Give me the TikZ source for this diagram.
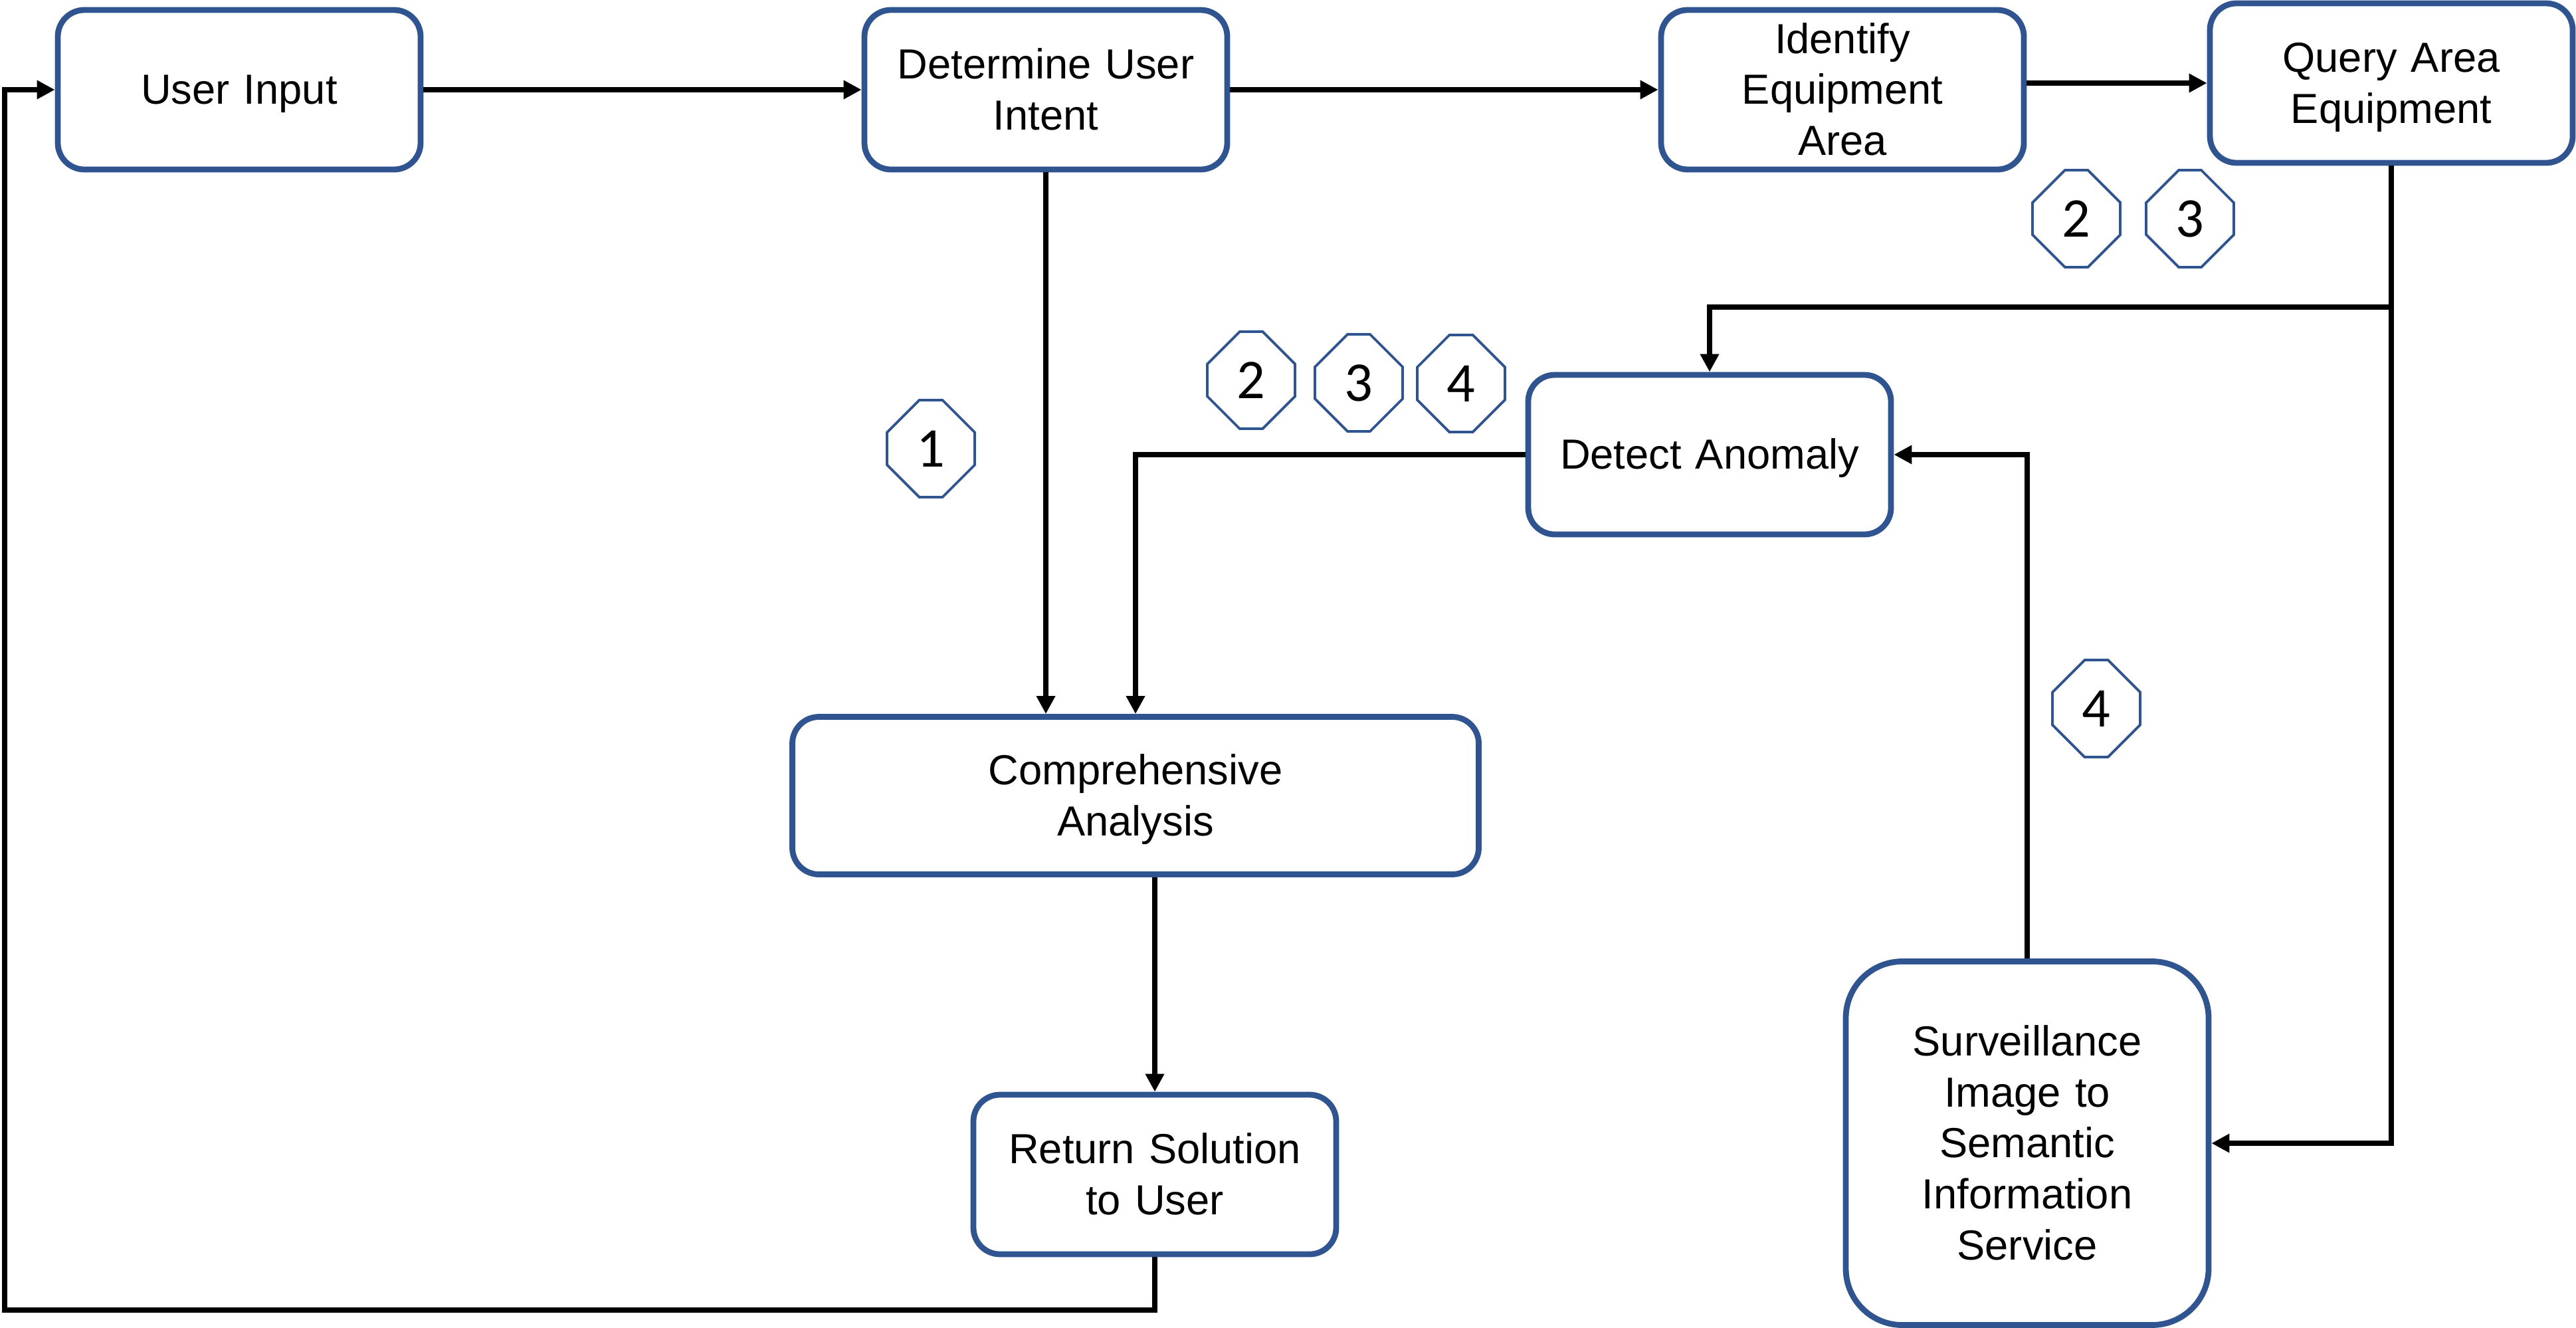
\documentclass[tikz,border=0pt]{standalone}
\usepackage{fontspec}
\setmainfont{Liberation Sans}
\newfontfamily\numfont{Carlito}
\usetikzlibrary{arrows.meta,shapes.misc}
\definecolor{boxblue}{RGB}{47,84,143}
\newcommand{\linestrut}{\rule[-3.8pt]{0pt}{20.1pt}}

\begin{document}
\begin{tikzpicture}[
        box/.style={draw=boxblue, line width=2.5pt, rounded corners=0.40cm, fill=white,
            minimum width=5.46cm, minimum height=2.40cm, text width=5.2cm, align=center, inner sep=0pt,
            font=\fontsize{18}{21.8}\selectfont,
            execute at begin node=\linestrut, execute at end node=\linestrut},
        tag/.style={draw=boxblue, line width=1.1pt, chamfered rectangle,
            chamfered rectangle xsep=0.39cm, chamfered rectangle ysep=0.39cm,
            minimum width=1.32cm, minimum height=1.46cm, inner sep=0pt,
            font=\numfont\fontsize{24}{28}\selectfont},
        link/.style={line width=2.3pt},
        flow/.style={link, -{Triangle[length=0.27cm, width=0.27cm]}}
    ]
        % Canvas
        \useasboundingbox (0,0) rectangle (38.77,-19.97);

        % Top row
        \node[box] (input) at (3.60,-1.35) {User Input};
        \node[box] (intent) at (15.74,-1.35) {Determine User\\Intent};
        \node[box] (ident) at (27.73,-1.35) {Identify\\Equipment\\Area};
        \node[box] (query) at (35.99,-1.25) {Query Area\\Equipment};

        % Middle and bottom
        \node[box] (detect) at (25.73,-6.84) {Detect Anomaly};
        \node[box, minimum width=10.33cm, minimum height=2.37cm] (analysis) at (17.09,-11.97) {Comprehensive\\Analysis};
        \node[box] (ret) at (17.38,-17.67) {Return Solution\\to User};
        \node[box, rounded corners=0.85cm, minimum height=5.47cm] (surv) at (30.51,-17.20)
            {Surveillance\\Image to\\Semantic\\Information\\Service};

        % Step numbers
        \node[tag] (t1) at (14.01,-6.75) {1};
        \node[tag] (t2a) at (31.25,-3.29) {2};
        \node[tag] (t3a) at (32.96,-3.29) {3};
        \node[tag] (t2b) at (18.83,-5.72) {2};
        \node[tag] (t3b) at (20.45,-5.76) {3};
        \node[tag] (t4b) at (21.99,-5.77) {4};
        \node[tag] (t4c) at (31.55,-10.66) {4};

        % Bend points
        \coordinate (qsplit) at (35.99,-4.62);
        \coordinate (corner) at (0.07,-19.71);

        % Connectors
        \draw[flow] (input) -- (intent);
        \draw[flow] (intent) -- (ident);
        \draw[flow] (ident.east |- query) -- (query);
        \draw[flow] (intent) -- (intent |- analysis.north);
        \draw[flow] (query.south) -- (qsplit) -| (detect.north);
        \draw[flow] (qsplit) |- (surv.east);
        \draw[flow] (surv.north) |- (detect.east);
        \draw[flow] (detect.west) -| (analysis.north);
        \draw[flow] (analysis.south -| ret) -- (ret.north);
        \draw[flow] (ret.south) |- (corner) |- (input.west);
    \end{tikzpicture}
\end{document}
